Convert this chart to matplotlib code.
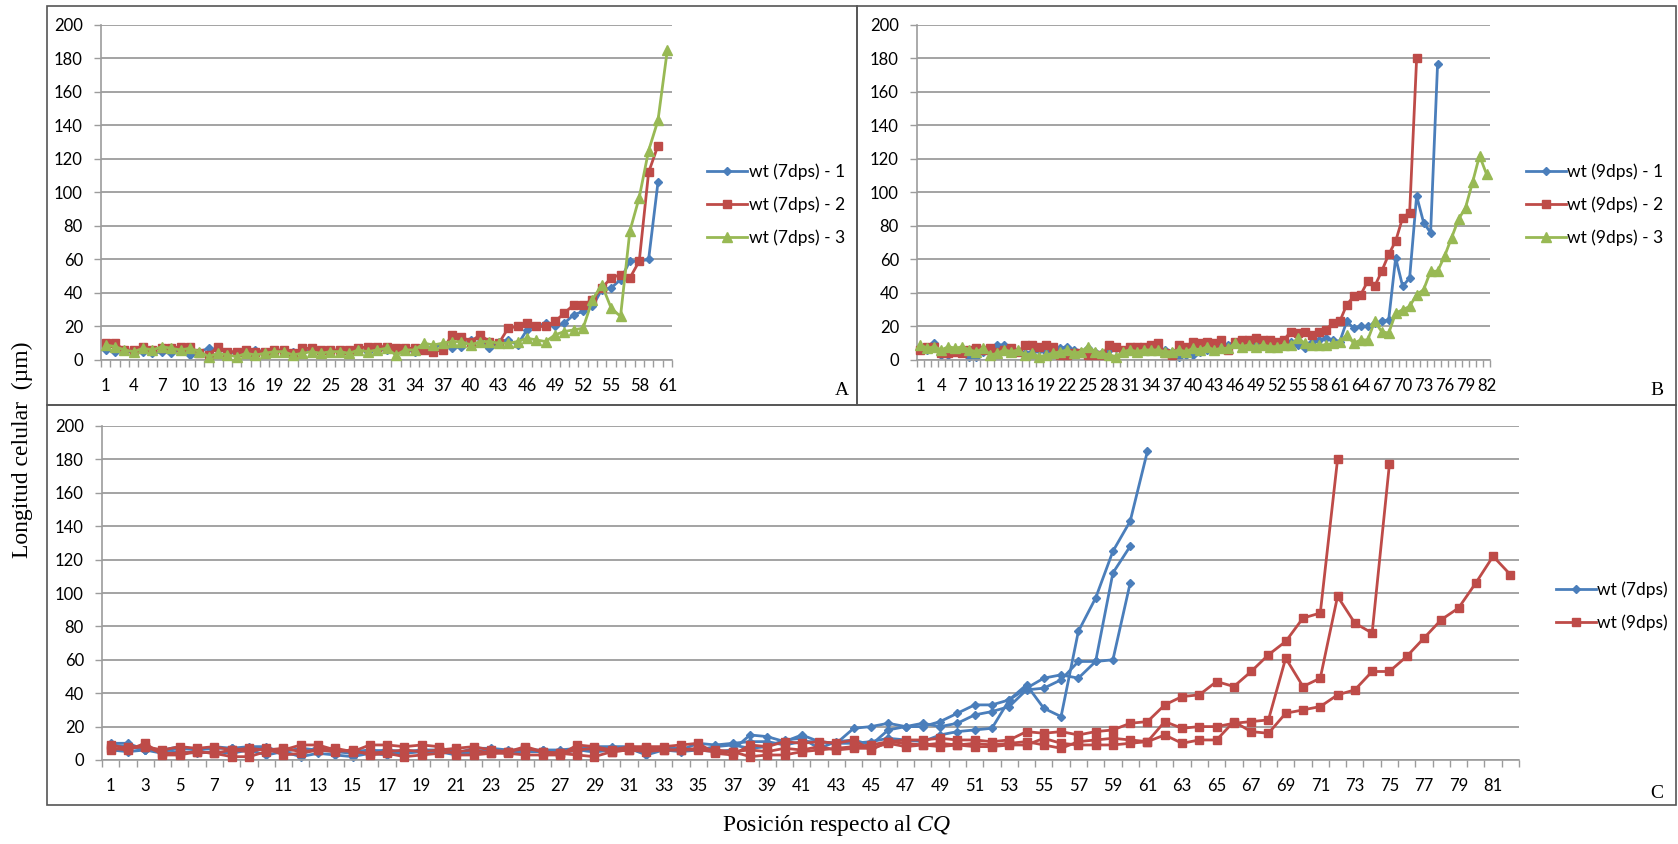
import numpy as np
import matplotlib
matplotlib.use("Agg")
import matplotlib.pyplot as plt
from matplotlib.patches import Rectangle

plt.rcParams['font.family'] = ['Lato', 'DejaVu Sans']
plt.rcParams['mathtext.fontset'] = 'custom'
plt.rcParams['mathtext.rm'] = 'Liberation Serif'
plt.rcParams['mathtext.it'] = 'Liberation Serif:italic'

# cell length (um) by position relative to CQ
wt7_1 = [6, 5, 6, 4, 5, 4, 5, 4, 6, 3, 5, 7, 6, 5, 4, 5, 6, 5, 5, 6,
         5, 5, 6, 5, 5, 6, 5, 6, 5, 6, 6, 5, 6, 5, 6, 8, 9, 7, 8, 12,
         13, 7, 11, 12, 9, 18, 20, 22, 20, 22, 27, 29, 32, 42, 43, 48, 59, 59, 60, 106]
wt7_2 = [10, 10, 6, 6, 8, 6, 7, 7, 8, 8, 4, 3, 8, 5, 5, 6, 5, 5, 6, 6,
         4, 7, 7, 6, 6, 6, 6, 7, 8, 8, 8, 7, 7, 7, 6, 5, 6, 15, 14, 11,
         15, 11, 10, 19, 20, 22, 20, 20, 23, 28, 33, 33, 36, 43, 49, 51, 49, 59, 112, 128]
wt7_3 = [9, 8, 6, 5, 7, 6, 8, 7, 6, 7, 5, 2, 4, 3, 2, 4, 3, 4, 5, 5,
         3, 4, 5, 4, 5, 5, 4, 6, 5, 6, 7, 3, 6, 6, 10, 9, 10, 11, 11, 9,
         11, 11, 10, 10, 11, 13, 12, 11, 15, 17, 18, 19, 36, 45, 31, 26, 77, 97, 125, 143,
         185]
wt9_1 = [7, 6, 10, 3, 3, 5, 4, 2, 2, 5, 6, 9, 9, 6, 5, 4, 5, 6, 5, 6,
         7, 8, 6, 5, 7, 5, 4, 6, 7, 5, 6, 7, 6, 6, 7, 6, 5, 2, 3, 3,
         5, 6, 7, 8, 9, 11, 10, 9, 10, 9, 10, 9, 10, 11, 9, 7, 11, 12, 13, 12,
         11, 23, 19, 20, 20, 22, 23, 24, 61, 44, 49, 98, 82, 76, 177]
wt9_2 = [6, 8, 8, 4, 4, 5, 4, 6, 7, 6, 7, 5, 6, 7, 5, 9, 9, 8, 9, 8,
         3, 3, 4, 4, 3, 3, 3, 9, 8, 6, 8, 8, 8, 9, 10, 4, 3, 9, 8, 11,
         10, 11, 10, 12, 6, 11, 12, 12, 13, 12, 12, 11, 12, 17, 16, 17, 15, 17, 18, 22,
         23, 33, 38, 39, 47, 44, 53, 63, 71, 85, 88, 180]
wt9_3 = [9, 7, 8, 6, 8, 7, 8, 6, 5, 7, 3, 4, 6, 5, 6, 3, 4, 2, 3, 4,
         5, 6, 4, 5, 8, 5, 4, 3, 2, 5, 6, 5, 6, 6, 6, 5, 5, 6, 5, 7,
         6, 8, 6, 7, 7, 10, 8, 9, 8, 9, 8, 8, 9, 9, 13, 10, 9, 9, 9, 10,
         11, 15, 10, 12, 12, 23, 17, 16, 28, 30, 32, 39, 42, 53, 53, 62, 73, 84, 91, 106,
         122, 111]

labels_a = ["wt (7dps) - 1", "wt (7dps) - 2", "wt (7dps) - 3"]
labels_b = ["wt (9dps) - 1", "wt (9dps) - 2", "wt (9dps) - 3"]
labels_c = ["wt (7dps)", "wt (9dps)"]

BLUE = '#4A7EBB'
RED = '#BE4B48'
GREEN = '#98B954'
GRID = '#9C9C9C'
W, H = 1678, 844

fig = plt.figure(figsize=(W / 100, H / 100), dpi=100)


def px_axes(left, top, right, bottom):
    return fig.add_axes([left / W, 1 - bottom / H, (right - left) / W, (bottom - top) / H])


def setup(ax, n, step):
    ax.set_xlim(0.5, n + 0.5)
    ax.set_ylim(0, 200)
    ax.set_yticks(range(0, 201, 20))
    ax.grid(axis='y', color=GRID, lw=1.3)
    ax.set_axisbelow(True)
    ax.set_xticks(range(1, n + 1, step))
    ax.set_xticks(np.arange(0.5, n + 1, 1), minor=True)
    ax.tick_params(axis='x', which='major', length=0, pad=13, labelsize=12)
    ax.tick_params(axis='x', which='minor', length=5, color=GRID, width=1)
    ax.tick_params(axis='y', length=5, color=GRID, width=1, pad=8, labelsize=12)
    for s in ['top', 'right']:
        ax.spines[s].set_visible(False)
    for s in ['left', 'bottom']:
        ax.spines[s].set_color(GRID)
        ax.spines[s].set_linewidth(1.2)


def draw(ax, x, y, color, marker, ms, label=None, z=2):
    ax.plot(x, y, color=color, lw=2, marker=marker, ms=ms, mfc=color, mec=color,
            label=label, zorder=z, clip_on=False)


def pos(vals):
    return range(1, len(vals) + 1)


def legend(ax, x, y):
    ax.legend(loc='center left', bbox_to_anchor=(x, y), frameon=False, fontsize=12.5,
              handlelength=2.3, handletextpad=0.1, labelspacing=0.95, borderaxespad=0)


# panel frames
for (l, t, r, b) in [(47, 6, 857, 405), (857, 6, 1676, 405), (47, 405, 1676, 805)]:
    fig.add_artist(Rectangle((l / W, 1 - b / H), (r - l) / W, (b - t) / H,
                             transform=fig.transFigure, fill=False, ec='#555555', lw=1.2))

# A
axA = px_axes(101, 25, 672, 360)
setup(axA, 61, 3)
draw(axA, pos(wt7_1), wt7_1, BLUE, 'D', 4.5, labels_a[0], 2)
draw(axA, pos(wt7_2), wt7_2, RED, 's', 6, labels_a[1], 3)
draw(axA, pos(wt7_3), wt7_3, GREEN, '^', 7, labels_a[2], 4)
legend(axA, 1.05, 0.463)

# B
axB = px_axes(917, 25, 1490, 360)
setup(axB, 82, 3)
draw(axB, pos(wt9_1), wt9_1, BLUE, 'D', 4.5, labels_b[0], 2)
draw(axB, pos(wt9_2), wt9_2, RED, 's', 6, labels_b[1], 3)
draw(axB, pos(wt9_3), wt9_3, GREEN, '^', 7, labels_b[2], 4)
legend(axB, 1.05, 0.463)

# C
axC = px_axes(102, 426, 1519, 760)
setup(axC, 82, 2)
for i, s in enumerate([wt7_1, wt7_2, wt7_3]):
    draw(axC, pos(s), s, BLUE, 'D', 4.5, labels_c[0] if i == 0 else None, 2)
for i, s in enumerate([wt9_1, wt9_2, wt9_3]):
    draw(axC, pos(s), s, RED, 's', 6, labels_c[1] if i == 0 else None, 3)
legend(axC, 1.021, 0.461)

# panel letters and axis titles
for letter, x, y in [('A', 842, 390), ('B', 1657, 390), ('C', 1657, 794)]:
    fig.text(x / W, 1 - y / H, letter, family='Liberation Serif', fontsize=14,
             ha='center', va='center')
fig.text(22 / W, 1 - 450 / H, 'Longitud celular  (µm)', rotation=90, family='Liberation Serif',
         fontsize=17, ha='center', va='center')
fig.text(837 / W, 1 - 825 / H, r'Posición respecto al $\mathit{CQ}$', family='Liberation Serif',
         fontsize=17, ha='center', va='center')

fig.savefig('out.png', dpi=100)
